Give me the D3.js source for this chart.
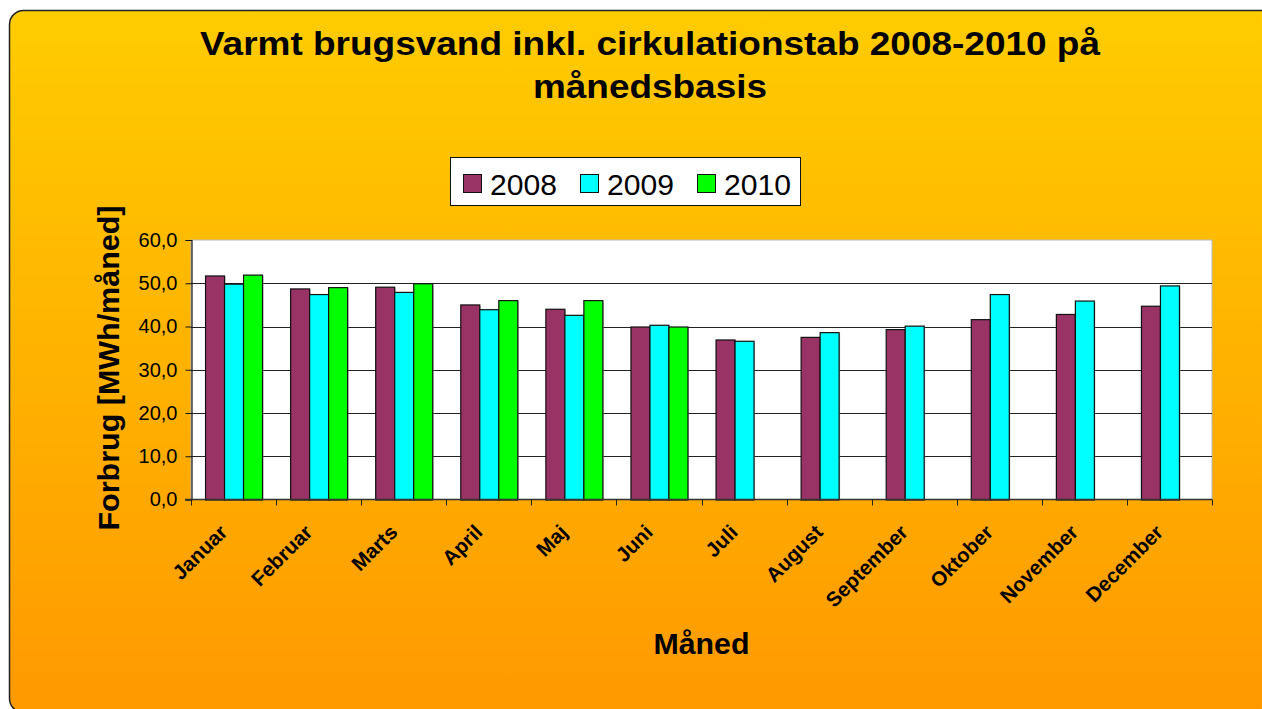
<!DOCTYPE html>
<html>
<head>
<meta charset="utf-8">
<script src="https://cdn.jsdelivr.net/npm/d3@7"></script>
<style>
  body { margin: 0; background: #fff; }
  text { font-family: "Liberation Sans", Arial, sans-serif; }
</style>
</head>
<body>
<script>
const months = ["Januar", "Februar", "Marts", "April", "Maj", "Juni", "Juli",
  "August", "September", "Oktober", "November", "December"];
const years = ["2008", "2009", "2010"];
const v2008 = [51.8, 48.8, 49.2, 45.1, 44.1, 40.0, 37.0, 37.6, 39.4, 41.7, 42.9, 44.8];
const v2009 = [49.9, 47.5, 48.0, 44.0, 42.7, 40.4, 36.7, 38.7, 40.2, 47.5, 46.0, 49.5];
const v2010 = [52.0, 49.1, 50.0, 46.1, 46.1, 40.0, null, null, null, null, null, null];
const yTicks = [0, 10, 20, 30, 40, 50, 60];
const colors = ["#993366", "#00FFFF", "#00FF00"];

const series = [v2008, v2009, v2010];
const width = 1262, height = 709;
const plot = {left: 191, right: 1212, top: 240, bottom: 499.5};

const svg = d3.select("body").append("svg")
  .attr("width", width)
  .attr("height", height);

const defs = svg.append("defs");
const grad = defs.append("linearGradient")
  .attr("id", "bg").attr("x1", 0).attr("y1", 0).attr("x2", 0).attr("y2", 1);
grad.append("stop").attr("offset", "0%").attr("stop-color", "#FFCC00");
grad.append("stop").attr("offset", "100%").attr("stop-color", "#FF9900");

svg.append("rect")
  .attr("x", 9.5).attr("y", 10.5)
  .attr("width", 1266).attr("height", 702)
  .attr("rx", 14).attr("ry", 14)
  .attr("fill", "url(#bg)")
  .attr("stroke", "#222").attr("stroke-width", 1.5);

// title
const title = svg.append("text")
  .attr("text-anchor", "middle")
  .attr("font-weight", "bold")
  .attr("font-size", 34);
title.append("tspan").attr("x", 650).attr("y", 55)
  .attr("textLength", 900).attr("lengthAdjust", "spacingAndGlyphs")
  .text("Varmt brugsvand inkl. cirkulationstab 2008-2010 på");
title.append("tspan").attr("x", 650).attr("y", 98)
  .attr("textLength", 234).attr("lengthAdjust", "spacingAndGlyphs")
  .text("månedsbasis");

// legend
const legend = svg.append("g");
legend.append("rect")
  .attr("x", 450.5).attr("y", 157.5).attr("width", 350).attr("height", 48)
  .attr("fill", "#fff").attr("stroke", "#111");
const legX = [463, 580, 697];
years.forEach((yr, i) => {
  legend.append("rect")
    .attr("x", legX[i] + 0.5).attr("y", 174.5).attr("width", 18).attr("height", 18)
    .attr("fill", colors[i]).attr("stroke", "#111");
  legend.append("text")
    .attr("x", legX[i] + 27).attr("y", 195)
    .attr("font-size", 29)
    .attr("textLength", 67).attr("lengthAdjust", "spacingAndGlyphs")
    .text(yr);
});

const x = d3.scaleBand()
  .domain(months)
  .range([plot.left, plot.right])
  .paddingInner(0.33)
  .paddingOuter(0.165);
const xs = d3.scaleBand()
  .domain(years)
  .range([0, x.bandwidth()]);
const y = d3.scaleLinear()
  .domain([0, 60])
  .range([plot.bottom, plot.top]);

// plot area
svg.append("rect")
  .attr("x", plot.left).attr("y", plot.top)
  .attr("width", plot.right - plot.left).attr("height", plot.bottom - plot.top)
  .attr("fill", "#fff")
  .attr("stroke", "#b8b8b8");

// gridlines
svg.append("g")
  .selectAll("line")
  .data(yTicks.filter(d => d > 0 && d < 60))
  .join("line")
  .attr("x1", plot.left).attr("x2", plot.right)
  .attr("y1", d => Math.round(y(d)) + 0.5).attr("y2", d => Math.round(y(d)) + 0.5)
  .attr("stroke", "#222");

// bars
const barData = [];
months.forEach((m, mi) => {
  years.forEach((yr, si) => {
    const v = series[si][mi];
    if (v != null) barData.push({month: m, year: yr, value: v, color: colors[si]});
  });
});

svg.append("g")
  .selectAll("rect.shadow")
  .data(barData)
  .join("rect")
  .attr("x", d => x(d.month) + xs(d.year) + 1.5)
  .attr("y", d => y(d.value) + 1.5)
  .attr("width", xs.bandwidth())
  .attr("height", d => plot.bottom - y(d.value) - 1.5)
  .attr("fill", "#999").attr("opacity", 0.6);

svg.append("g")
  .selectAll("rect")
  .data(barData)
  .join("rect")
  .attr("x", d => x(d.month) + xs(d.year) + 0.5)
  .attr("y", d => y(d.value) + 0.5)
  .attr("width", xs.bandwidth())
  .attr("height", d => plot.bottom - y(d.value))
  .attr("fill", d => d.color)
  .attr("stroke", "#111")
  .attr("stroke-width", 1.2);

// y axis
const yAxis = svg.append("g")
  .attr("transform", `translate(${plot.left + 0.5},0)`)
  .call(d3.axisLeft(y).tickValues(yTicks).tickSize(6).tickPadding(8)
    .tickFormat(d => d3.format(".1f")(d).replace(".", ",")));
yAxis.select(".domain").attr("stroke", "#111").attr("stroke-width", 1.2);
yAxis.selectAll("line").attr("stroke", "#111");
yAxis.selectAll("text")
  .attr("font-size", 20)
  .attr("fill", "#000")
  .attr("font-family", "Liberation Sans, Arial, sans-serif");

// x axis line and ticks at category boundaries
const xAxisG = svg.append("g");
xAxisG.append("line")
  .attr("x1", plot.left - 6).attr("x2", plot.right)
  .attr("y1", plot.bottom).attr("y2", plot.bottom)
  .attr("stroke", "#333").attr("stroke-width", 1.5);
const step = (plot.right - plot.left) / months.length;
xAxisG.selectAll("line.tick")
  .data(d3.range(months.length + 1))
  .join("line")
  .attr("x1", i => Math.round(plot.left + i * step) + 0.5)
  .attr("x2", i => Math.round(plot.left + i * step) + 0.5)
  .attr("y1", plot.bottom).attr("y2", plot.bottom + 6)
  .attr("stroke", "#222");

xAxisG.selectAll("text")
  .data(months)
  .join("text")
  .attr("transform", d => `translate(${x(d) + x.bandwidth() / 2 - 5},${plot.bottom + 34}) rotate(-45)`)
  .attr("text-anchor", "end")
  .attr("font-size", 20.5)
  .attr("font-weight", "bold")
  .text(d => d);

// axis titles
svg.append("text")
  .attr("x", (plot.left + plot.right) / 2).attr("y", 654)
  .attr("text-anchor", "middle")
  .attr("font-size", 30).attr("font-weight", "bold")
  .attr("textLength", 96).attr("lengthAdjust", "spacingAndGlyphs")
  .text("Måned");

svg.append("text")
  .attr("transform", `translate(119,368) rotate(-90)`)
  .attr("text-anchor", "middle")
  .attr("font-size", 29).attr("font-weight", "bold")
  .attr("textLength", 325).attr("lengthAdjust", "spacingAndGlyphs")
  .text("Forbrug [MWh/måned]");
</script>
</body>
</html>
